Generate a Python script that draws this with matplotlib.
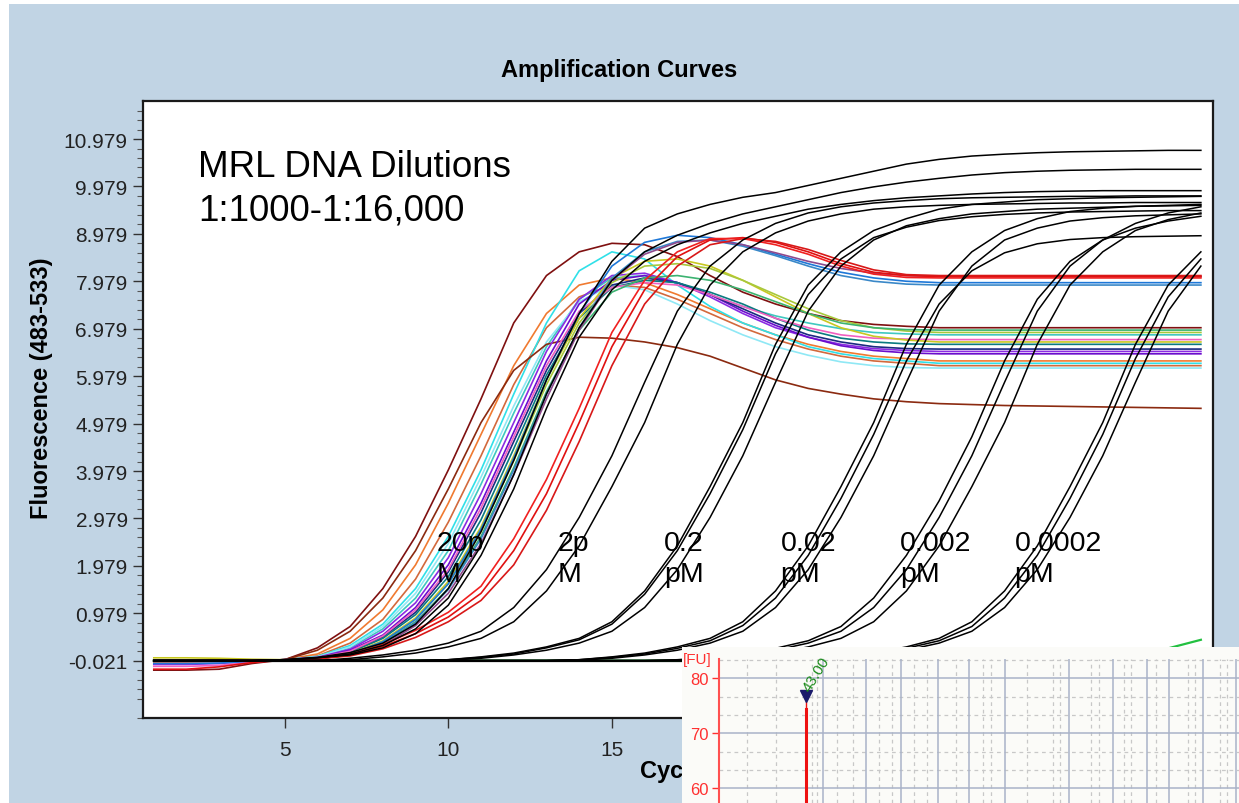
import matplotlib
matplotlib.use('Agg')
import matplotlib.pyplot as plt
from matplotlib.patches import Rectangle

plt.rcParams['font.family'] = ['Liberation Sans', 'DejaVu Sans']

cycles = list(range(1, 34))

# ---- 20 pM, coloured replicates (cycles 1-4, 5-24, 25-33 plateau)
maroon = [-0.22, -0.22, -0.2, -0.08] + [0.0, 0.25, 0.7, 1.5, 2.6, 4.0, 5.5, 7.1, 8.1, 8.6, 8.78, 8.75, 8.5, 8.1, 7.75, 7.5, 7.3, 7.15, 7.07, 7.03] + [7.0] * 9
orange = [-0.02] * 4 + [0.0, 0.12, 0.45, 1.05, 2.0, 3.3, 4.75, 6.2, 7.3, 7.9, 8.05, 7.95, 7.7, 7.4, 7.1, 6.85, 6.65, 6.5, 6.4, 6.35] + [6.3] * 9
sienna = [-0.05, -0.05, -0.04, -0.02] + [0.0, 0.08, 0.35, 0.85, 1.7, 2.9, 4.3, 5.8, 7.0, 7.65, 7.9, 7.85, 7.6, 7.3, 7.0, 6.75, 6.55, 6.4, 6.3, 6.25] + [6.2] * 9
cyan = [-0.02] * 4 + [0.0, 0.07, 0.3, 0.75, 1.5, 2.6, 4.0, 5.6, 7.1, 8.2, 8.6, 8.45, 7.9, 7.45, 7.1, 6.85, 6.6, 6.45, 6.35, 6.3] + [6.25] * 9
turquoise = [-0.02] * 4 + [0.0, 0.05, 0.25, 0.65, 1.3, 2.3, 3.7, 5.2, 6.6, 7.6, 8.05, 8.1, 7.95, 7.7, 7.45, 7.25, 7.1, 6.98, 6.9, 6.87] + [6.85] * 9
lightcyan = [-0.02] * 4 + [0.0, 0.06, 0.27, 0.7, 1.4, 2.45, 3.85, 5.35, 6.7, 7.55, 7.9, 7.8, 7.5, 7.15, 6.85, 6.6, 6.42, 6.28, 6.2, 6.16] + [6.15] * 9
blueviolet = [-0.1, -0.1, -0.08, -0.03] + [0.0, 0.05, 0.22, 0.6, 1.2, 2.15, 3.5, 5.0, 6.5, 7.6, 8.1, 8.15, 7.95, 7.65, 7.3, 7.0, 6.8, 6.65, 6.56, 6.52] + [6.5] * 9
darkviolet = [-0.02] * 4 + [0.0, 0.04, 0.2, 0.52, 1.1, 2.0, 3.3, 4.8, 6.3, 7.5, 8.0, 8.1, 7.95, 7.7, 7.35, 7.05, 6.8, 6.62, 6.52, 6.47] + [6.45] * 9
navy = [-0.02] * 4 + [0.0, 0.03, 0.17, 0.48, 1.0, 1.85, 3.1, 4.6, 6.1, 7.3, 7.9, 8.05, 7.95, 7.7, 7.4, 7.1, 6.85, 6.7, 6.6, 6.56] + [6.55] * 9
teal = [-0.02] * 4 + [0.0, 0.03, 0.15, 0.45, 0.95, 1.75, 2.95, 4.45, 6.0, 7.2, 7.85, 8.0, 7.95, 7.75, 7.5, 7.2, 6.95, 6.78, 6.7, 6.66] + [6.65] * 9
pink = [-0.14, -0.14, -0.12, -0.05] + [0.0, 0.04, 0.18, 0.5, 1.05, 1.9, 3.2, 4.7, 6.2, 7.35, 7.85, 7.95, 7.9, 7.7, 7.45, 7.2, 7.0, 6.85, 6.78, 6.76] + [6.75] * 9
olive = [0.04, 0.04, 0.03, 0.01] + [0.0, 0.02, 0.13, 0.4, 0.88, 1.65, 2.8, 4.3, 5.9, 7.2, 8.05, 8.4, 8.45, 8.3, 8.0, 7.65, 7.3, 7.0, 6.82, 6.74] + [6.7] * 9
yellowgreen = [-0.02] * 4 + [0.0, 0.02, 0.12, 0.38, 0.85, 1.6, 2.7, 4.2, 5.8, 7.1, 7.95, 8.3, 8.35, 8.25, 8.0, 7.7, 7.4, 7.15, 7.0, 6.93] + [6.9] * 9
green = [-0.02] * 4 + [0.0, 0.02, 0.11, 0.35, 0.8, 1.5, 2.6, 4.05, 5.65, 6.95, 7.75, 8.05, 8.1, 8.0, 7.8, 7.55, 7.3, 7.1, 7.0, 6.96] + [6.95] * 9
blue = [-0.08, -0.08, -0.07, -0.03] + [0.0, 0.02, 0.12, 0.38, 0.85, 1.6, 2.75, 4.25, 5.9, 7.3, 8.3, 8.8, 8.95, 8.9, 8.75, 8.55, 8.35, 8.17, 8.05, 7.98] + [7.95] * 9
steelblue = [-0.02] * 4 + [0.0, 0.02, 0.1, 0.33, 0.78, 1.48, 2.55, 4.0, 5.6, 7.0, 8.05, 8.6, 8.82, 8.85, 8.72, 8.52, 8.3, 8.1, 7.98, 7.92] + [7.9] * 9
plum = [-0.02] * 4 + [0.0, 0.02, 0.1, 0.3, 0.72, 1.4, 2.45, 3.9, 5.5, 6.95, 8.0, 8.55, 8.8, 8.85, 8.75, 8.58, 8.4, 8.25, 8.15, 8.1] + [8.08] * 9
brown = [-0.02] * 4 + [0.0, 0.2, 0.6, 1.3, 2.3, 3.6, 5.0, 6.1, 6.65, 6.8, 6.78, 6.7, 6.58, 6.4, 6.15, 5.9, 5.72, 5.6, 5.5, 5.44,
                       5.4, 5.38, 5.36, 5.35, 5.34, 5.33, 5.32, 5.31, 5.3]
red_a = [-0.2, -0.2, -0.15, -0.06] + [0.0, 0.02, 0.1, 0.28, 0.55, 0.9, 1.4, 2.3, 3.5, 5.0, 6.6, 7.8, 8.5, 8.85, 8.9, 8.8, 8.6, 8.35, 8.17, 8.1] + [8.08] * 9
red_b = [-0.02] * 4 + [0.0, 0.02, 0.08, 0.23, 0.47, 0.8, 1.25, 2.0, 3.15, 4.6, 6.2, 7.5, 8.3, 8.75, 8.88, 8.82, 8.65, 8.42, 8.22, 8.12] + [8.1] * 9
red_c = [-0.02] * 4 + [0.0, 0.03, 0.12, 0.32, 0.62, 1.0, 1.55, 2.55, 3.8, 5.3, 6.9, 8.0, 8.6, 8.88, 8.88, 8.75, 8.55, 8.3, 8.13, 8.06] + [8.05] * 9

# ---- black replicates per dilution
k20_a = [-0.02] * 4 + [0.0, 0.05, 0.15, 0.35, 0.75, 1.5, 2.7, 4.2, 5.9, 7.3, 8.4, 9.1, 9.4, 9.6, 9.75, 9.85, 10.0, 10.15, 10.3, 10.45, 10.55, 10.62, 10.66, 10.69, 10.71, 10.72, 10.73, 10.74, 10.74]
k20_b = [-0.02] * 4 + [0.0, 0.04, 0.12, 0.3, 0.65, 1.3, 2.4, 3.9, 5.6, 7.0, 8.0, 8.6, 8.95, 9.2, 9.4, 9.55, 9.7, 9.85, 9.97, 10.07, 10.15, 10.22, 10.27, 10.3, 10.32, 10.33, 10.34, 10.34, 10.34]
k20_c = [-0.02] * 4 + [0.0, 0.04, 0.1, 0.25, 0.55, 1.15, 2.2, 3.6, 5.3, 6.8, 7.8, 8.4, 8.75, 9.0, 9.2, 9.35, 9.5, 9.6, 9.68, 9.74, 9.78, 9.82, 9.85, 9.87, 9.88, 9.89, 9.89, 9.89, 9.89]
k2_a = [-0.02] * 6 + [0.03, 0.1, 0.2, 0.35, 0.6, 1.1, 1.9, 3.0, 4.3, 5.85, 7.35, 8.3, 8.85, 9.2, 9.42, 9.55, 9.63, 9.68, 9.72, 9.74, 9.75, 9.76, 9.77, 9.77, 9.78, 9.78, 9.78]
k2_b = [-0.02] * 6 + [0.0, 0.06, 0.14, 0.27, 0.45, 0.8, 1.45, 2.4, 3.65, 5.0, 6.65, 7.9, 8.6, 9.0, 9.25, 9.4, 9.5, 9.55, 9.58, 9.6, 9.61, 9.62, 9.63, 9.63, 9.64, 9.64, 9.64]
k02_a = [-0.02] * 9 + [0.0, 0.06, 0.14, 0.27, 0.45, 0.8, 1.45, 2.4, 3.65, 5.0, 6.65, 7.9, 8.6, 9.05, 9.3, 9.5, 9.6, 9.65, 9.7, 9.72, 9.74, 9.75, 9.76, 9.77]
k02_b = [-0.02] * 9 + [-0.01, 0.03, 0.1, 0.2, 0.35, 0.6, 1.1, 1.9, 3.0, 4.3, 5.85, 7.35, 8.3, 8.85, 9.15, 9.3, 9.4, 9.45, 9.5, 9.52, 9.54, 9.56, 9.57, 9.58]
k02_c = [-0.02] * 9 + [0.0, 0.05, 0.12, 0.25, 0.42, 0.75, 1.38, 2.3, 3.5, 4.85, 6.45, 7.7, 8.45, 8.9, 9.12, 9.26, 9.34, 9.39, 9.42, 9.44, 9.45, 9.46, 9.47, 9.47]
k002_a = [-0.02] * 13 + [0.0, 0.06, 0.14, 0.27, 0.45, 0.8, 1.45, 2.4, 3.65, 5.0, 6.65, 7.9, 8.6, 9.05, 9.3, 9.45, 9.52, 9.56, 9.58, 9.6]
k002_b = [-0.02] * 13 + [-0.01, 0.03, 0.1, 0.2, 0.35, 0.6, 1.1, 1.9, 3.0, 4.3, 5.85, 7.35, 8.3, 8.85, 9.1, 9.25, 9.32, 9.36, 9.38, 9.4]
k002_c = [-0.02] * 13 + [0.0, 0.05, 0.12, 0.24, 0.4, 0.72, 1.3, 2.2, 3.4, 4.75, 6.3, 7.5, 8.2, 8.58, 8.77, 8.86, 8.9, 8.92, 8.93, 8.94]
k0002_a = [-0.02] * 16 + [-0.01, 0.03, 0.1, 0.2, 0.35, 0.6, 1.1, 1.9, 3.0, 4.3, 5.85, 7.35, 8.3, 8.85, 9.2, 9.42, 9.55]
k0002_b = [-0.02] * 17 + [0.0, 0.06, 0.14, 0.27, 0.45, 0.8, 1.45, 2.4, 3.65, 5.0, 6.65, 7.9, 8.6, 9.05, 9.28, 9.42]
k0002_c = [-0.02] * 16 + [0.0, 0.05, 0.12, 0.24, 0.4, 0.7, 1.3, 2.2, 3.35, 4.7, 6.3, 7.6, 8.4, 8.85, 9.1, 9.25, 9.35]
k00002_a = [-0.02] * 20 + [0.0, 0.06, 0.14, 0.27, 0.45, 0.8, 1.45, 2.4, 3.65, 5.0, 6.65, 7.9, 8.6]
k00002_b = [-0.02] * 20 + [-0.01, 0.03, 0.1, 0.2, 0.35, 0.6, 1.1, 1.9, 3.0, 4.3, 5.85, 7.35, 8.3]
k00002_c = [-0.02] * 20 + [0.0, 0.05, 0.12, 0.24, 0.4, 0.7, 1.3, 2.2, 3.4, 4.75, 6.35, 7.65, 8.45]
ntc = [-0.02] * 33
ntc_green = [-0.02] * 29 + [0.0, 0.1, 0.24, 0.42]

dilution_labels = ['20p\nM', '2p\nM', '0.2\npM', '0.02\npM', '0.002\npM', '0.0002\npM']
label_cycles = [9.63, 13.33, 16.6, 20.15, 23.8, 27.3]

coloured = [(maroon, '#7f1010'), (orange, '#f07a30'), (sienna, '#d2693c'), (cyan, '#30e0e8'),
            (turquoise, '#40c8c0'), (lightcyan, '#8fe8f5'), (brown, '#8b2a10'), (blueviolet, '#8a2be2'),
            (darkviolet, '#6a0dcc'), (navy, '#1c2a80'), (teal, '#0a7a80'), (pink, '#f060c0'),
            (olive, '#c8c820'), (yellowgreen, '#a8c83c'), (green, '#3cb371'), (blue, '#1e78d8'),
            (steelblue, '#3a88c8'), (plum, '#8e4a8e'), (red_a, '#e01010'), (red_b, '#d81818'), (red_c, '#f02020')]
blacks = [k20_a, k20_b, k20_c, k2_a, k2_b, k02_a, k02_b, k02_c, k002_a, k002_b, k002_c,
          k0002_a, k0002_b, k0002_c, k00002_a, k00002_b, k00002_c]

fig = plt.figure(figsize=(12.39, 8.04), dpi=100)
fig.patch.set_facecolor('white')
fig.patches.append(Rectangle((9 / 1239, 0), 1, 1 - 5 / 804, transform=fig.transFigure,
                             facecolor='#c1d4e4', edgecolor='none', zorder=-10))

ax = fig.add_axes([143 / 1239, 1 - 719 / 804, 1070 / 1239, 617.3 / 804])
ax.set_facecolor('white')

ax.plot(cycles, ntc, color='black', lw=1.6, zorder=2)
ax.plot(cycles, ntc_green, color='#22c040', lw=1.6, zorder=2)
for vals, col in coloured:
    ax.plot(cycles, vals, color=col, lw=1.2, zorder=3)
for vals in blacks:
    ax.plot(cycles, vals, color='black', lw=1.1, zorder=4)

ax.set_xlim(0.67, 33.37)
ax.set_ylim(-1.229, 11.787)
yt = [-0.021 + k for k in range(12)]
ax.set_yticks(yt)
ax.set_yticklabels(['%.3f' % v for v in yt])
ax.set_yticks([-0.021 + 0.2 * k for k in range(-6, 59) if k % 5], minor=True)
ax.set_xticks([5, 10, 15, 20, 25, 30])
ax.tick_params(axis='both', which='major', labelsize=15, length=7, width=1, color='#333333',
               labelcolor='#222222')
ax.tick_params(axis='y', which='major', pad=4)
ax.tick_params(axis='x', which='major', pad=9)
ax.tick_params(axis='y', which='minor', length=4, width=0.8, color='#555555')
for s in ax.spines.values():
    s.set_linewidth(1.6)
    s.set_color('#1a1a1a')

ax.set_ylabel('Fluorescence (483-533)', fontsize=17, fontweight='bold')
ax.yaxis.set_label_coords(-0.084, 0.535)
ax.set_xlabel('Cycles', fontsize=17, fontweight='bold')
ax.xaxis.set_label_coords(0.5, -0.066)

ax.text(0.0514, 0.921, 'MRL DNA Dilutions\n1:1000-1:16,000', transform=ax.transAxes,
        fontsize=26.5, ha='left', va='top', linespacing=1.3, zorder=6)
for lab, c in zip(dilution_labels, label_cycles):
    ax.text(c, 2.74, lab, fontsize=20.5, ha='left', va='top', linespacing=1.25, zorder=6)

fig.text(0.5, 1 - 70 / 804, 'Amplification Curves', ha='center', va='center',
         fontsize=17, fontweight='bold')

# ---- Bioanalyzer electropherogram fragment pasted over the lower right
bg = fig.add_axes([682 / 1239, 0, 557 / 1239, 156 / 804])
bg.set_facecolor('#fbfbf8')
bg.set_xticks([])
bg.set_yticks([])
for s in bg.spines.values():
    s.set_visible(False)
bg.set_zorder(5)

fu_major_x = [104.8, 147.1, 182.6, 219.2, 250.4, 286.7, 350.6, 393.9, 428.8, 450.8, 484.5, 517.0]
fu_minor_x = [28.4, 57.4, 93.1, 98.4, 118.4, 133.9, 160.4, 173.0, 195.0, 208.4, 236.9, 264.4, 272.4,
              308.0, 334.4, 341.4, 371.9, 380.8, 405.4, 412.4, 437.4, 469.4, 476.4, 501.4, 508.4]
fu_major_y = [60, 70, 80]
fu_minor_y = [63.33, 66.67, 73.33, 76.67, 83.33]
peak_pos = 87.0
peak_fu = 74.5
peak_label = '43.00'

ai = fig.add_axes([718.6 / 1239, 0, (1239 - 718.6) / 1239, (804 - 660) / 804])
ai.set_zorder(6)
ai.set_facecolor('#fbfbf8')
ai.set_xlim(0, 520.4)
ai.set_ylim(57.33, 83.5)
for xv in fu_minor_x:
    ai.axvline(xv, color='#c8c8c8', lw=0.9, ls=(0, (3, 3)), zorder=1)
for yv in fu_minor_y:
    ai.axhline(yv, color='#c8c8c8', lw=0.9, ls=(0, (3, 3)), zorder=1)
for xv in fu_major_x:
    ai.axvline(xv, color='#a9b3c8', lw=1.1, zorder=1.5)
for yv in fu_major_y:
    ai.axhline(yv, color='#a9b3c8', lw=1.1, zorder=1.5)
ai.plot([peak_pos, peak_pos], [57.33, peak_fu], color='#ee1111', lw=2.2, zorder=3)
ai.plot([peak_pos, peak_pos], [peak_fu, peak_fu + 2.0], color='#ee1111', lw=1.0, zorder=3)
ai.plot([peak_pos], [peak_fu + 2.3], marker='v', color='#1a1a6a', markersize=9, zorder=4)
ai.text(peak_pos + 11, peak_fu + 6.3, peak_label, rotation=58, color='#1a8a1a', fontsize=11,
        ha='center', va='center', zorder=4)
ai.set_xticks([])
ai.set_yticks(fu_major_y)
ai.tick_params(axis='y', colors='#ff3030', labelsize=12, length=5, width=1, pad=2)
for k, s in ai.spines.items():
    s.set_visible(k == 'left')
ai.spines['left'].set_color('#ff5050')
ai.spines['left'].set_linewidth(1.5)
ai.text(-0.069, 1.0, '[FU]', transform=ai.transAxes, color='#ff3030', fontsize=11,
        ha='left', va='center', clip_on=False)

fig.savefig('out.png', dpi=100)
